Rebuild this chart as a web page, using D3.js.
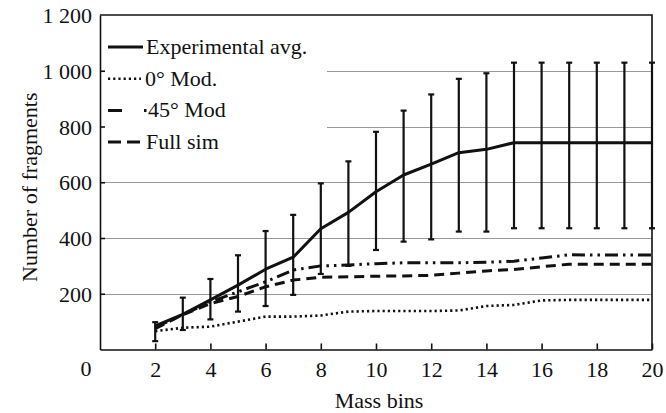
<!DOCTYPE html>
<html>
<head>
<meta charset="utf-8">
<script src="https://cdn.jsdelivr.net/npm/d3@7/dist/d3.min.js"></script>
<style>
  html, body { margin: 0; padding: 0; background: #fff; }
  svg { display: block; }
</style>
</head>
<body>
<div id="chart"></div>
<script>
// データ
const massBins = [2, 3, 4, 5, 6, 7, 8, 9, 10, 11, 12, 13, 14, 15, 16, 17, 18, 19, 20];
const expAvg   = [85, 126, 178, 231, 288, 331, 433, 492, 566, 626, 665, 706, 718, 742, 742, 742, 742, 742, 742];
const expLow   = [30, 70, 108, 136, 156, 196, 271, 300, 357, 387, 395, 423, 423, 435, 435, 435, 435, 435, 435];
const expHigh  = [98, 186, 253, 338, 425, 483, 596, 675, 781, 857, 915, 971, 991, 1029, 1029, 1029, 1029, 1029, 1029];
const mod0     = [66, 78, 82, 100, 118, 118, 122, 136, 138, 138, 138, 140, 156, 160, 176, 178, 178, 178, 178];
const mod45    = [80, 125, 171, 207, 243, 285, 300, 303, 308, 311, 311, 311, 313, 317, 328, 340, 339, 339, 339];
const fullSim  = [75, 125, 165, 190, 225, 249, 259, 261, 263, 264, 266, 274, 282, 287, 297, 306, 306, 306, 306];
const xTicks = [2, 4, 6, 8, 10, 12, 14, 16, 18, 20];
const yTicks = [200, 400, 600, 800, 1000, 1200];
const legendLabels = ['Experimental avg.', '0° Mod.', '45° Mod', 'Full sim'];

const width = 666;
const height = 413;
const margin = { top: 15, right: 14, bottom: 64, left: 100 };
const FONT = '"Liberation Serif"';
const FS = '22px';

const svg = d3.select('#chart')
    .append('svg')
    .attr('width', width)
    .attr('height', height);

const x = d3.scaleLinear()
    .domain([0, 20])
    .range([margin.left, width - margin.right]);

const y = d3.scaleLinear()
    .domain([0, 1200])
    .range([height - margin.bottom + 0.5, margin.top]);

const fmt = v => d3.format(',')(v).replace(',', ' ');

function styleText(sel) {
    sel.style('font-family', FONT)
        .style('font-size', FS)
        .attr('fill', '#111');
}

// グリッド
svg.append('g')
    .selectAll('line')
    .data(yTicks.filter(d => d < 1200))
    .enter()
    .append('line')
    .attr('x1', x(0))
    .attr('x2', x(20))
    .attr('y1', d => Math.round(y(d)) + 0.5)
    .attr('y2', d => Math.round(y(d)) + 0.5)
    .attr('stroke', '#9a9a9a')
    .attr('stroke-width', 1.2);

// 凡例の背景（グリッドを隠す）
svg.append('rect')
    .attr('x', x(0) + 1)
    .attr('y', y(1200) + 1)
    .attr('width', 226)
    .attr('height', 152)
    .attr('fill', '#fff');

// 軸
const xAxis = d3.axisBottom(x)
    .tickValues(xTicks)
    .tickSizeInner(-6)
    .tickSizeOuter(0)
    .tickPadding(12);

const yAxis = d3.axisLeft(y)
    .tickValues(yTicks)
    .tickSizeInner(-5)
    .tickSizeOuter(0)
    .tickPadding(8)
    .tickFormat(fmt);

const gx = svg.append('g')
    .attr('transform', `translate(0,${y(0)})`)
    .call(xAxis);

const gy = svg.append('g')
    .attr('transform', `translate(${x(0)},0)`)
    .call(yAxis);

[gx, gy].forEach(g => {
    g.attr('font-family', null).attr('font-size', null);
    g.select('.domain').attr('stroke', '#111').attr('stroke-width', 1.6);
    g.selectAll('.tick line').attr('stroke', '#111').attr('stroke-width', 1.6);
    g.selectAll('.tick text').call(styleText);
});
gy.selectAll('.tick text').attr('dy', '0.35em');
gx.selectAll('.tick text').attr('dy', '0.72em');
gy.select('.tick:last-of-type line').remove();

// 上と右の枠
svg.append('path')
    .attr('d', `M${x(0)},${y(1200)}H${x(20)}V${y(0)}`)
    .attr('fill', 'none')
    .attr('stroke', '#111')
    .attr('stroke-width', 1.6);

// 原点ラベル
svg.append('text')
    .attr('x', x(0) - 14)
    .attr('y', y(0) + 26)
    .attr('text-anchor', 'middle')
    .call(styleText)
    .text('0');

// 軸タイトル
svg.append('text')
    .attr('x', (x(0) + x(20)) / 2 + 3)
    .attr('y', 408)
    .attr('text-anchor', 'middle')
    .call(styleText)
    .text('Mass bins');

svg.append('text')
    .attr('transform', `translate(37,${(y(0) + y(1200)) / 2 + 5}) rotate(-90)`)
    .attr('text-anchor', 'middle')
    .call(styleText)
    .text('Number of fragments');

// エラーバー
const bars = svg.append('g')
    .selectAll('g')
    .data(massBins.map((m, i) => ({ m, lo: expLow[i], hi: expHigh[i] })))
    .enter()
    .append('g')
    .attr('stroke', '#111')
    .attr('stroke-width', 2.2);

bars.append('line')
    .attr('x1', d => x(d.m)).attr('x2', d => x(d.m))
    .attr('y1', d => y(d.lo)).attr('y2', d => y(d.hi));
bars.append('line')
    .attr('x1', d => x(d.m) - 3).attr('x2', d => x(d.m) + 3)
    .attr('y1', d => y(d.lo)).attr('y2', d => y(d.lo));
bars.append('line')
    .attr('x1', d => x(d.m) - 3).attr('x2', d => x(d.m) + 3)
    .attr('y1', d => y(d.hi)).attr('y2', d => y(d.hi));

// 系列
const series = [
    { values: mod0, dash: '2.2,3', width: 2.6 },
    { values: mod45, dash: '13,5,2.5,5,2.5,5', width: 3 },
    { values: fullSim, dash: '10,6', width: 3 },
    { values: expAvg, dash: null, width: 3 }
];

const line = d3.line()
    .x((d, i) => x(massBins[i]))
    .y(d => y(d));

svg.append('g')
    .selectAll('path')
    .data(series)
    .enter()
    .append('path')
    .attr('d', d => line(d.values))
    .attr('fill', 'none')
    .attr('stroke', '#111')
    .attr('stroke-width', d => d.width)
    .attr('stroke-dasharray', d => d.dash)
    .attr('stroke-linejoin', 'round');

// 凡例
const legendItems = [
    { label: legendLabels[0], dash: null, width: 3, x2: 143, tx: 146 },
    { label: legendLabels[1], dash: '2.2,3', width: 2.6, x2: 141, tx: 145 },
    { label: legendLabels[2], dash: '14,22,2.5,30', width: 3, x2: 147, tx: 148 },
    { label: legendLabels[3], dash: '13,6', width: 3, x2: 140, tx: 146 }
];

const legend = svg.append('g')
    .selectAll('g')
    .data(legendItems)
    .enter()
    .append('g')
    .attr('transform', (d, i) => `translate(0,${47 + i * 31.7})`);

legend.append('line')
    .attr('x1', 108)
    .attr('x2', d => d.x2)
    .attr('y1', 0)
    .attr('y2', 0)
    .attr('stroke', '#111')
    .attr('stroke-width', d => d.width)
    .attr('stroke-dasharray', d => d.dash);

legend.append('text')
    .attr('x', d => d.tx)
    .attr('y', 7)
    .call(styleText)
    .text(d => d.label);
</script>
</body>
</html>
